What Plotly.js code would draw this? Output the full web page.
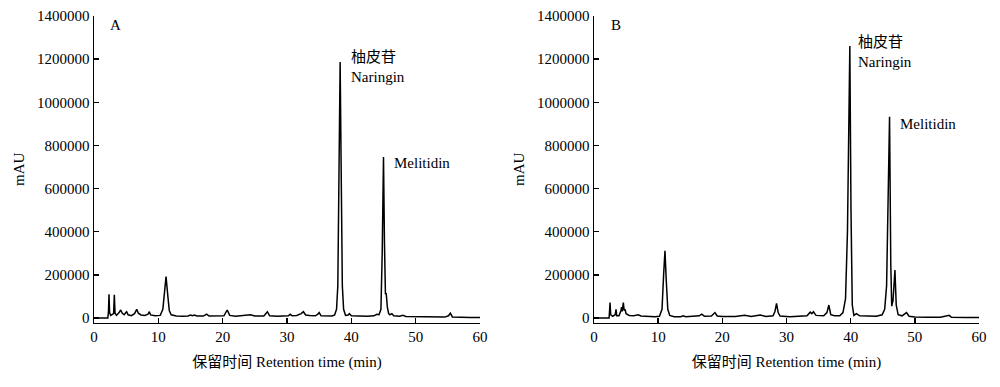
<!DOCTYPE html>
<html>
<head>
<meta charset="utf-8">
<script src="https://cdn.plot.ly/plotly-3.0.1.min.js"></script>
<style>html,body{margin:0;padding:0;background:#fff;}#chart{width:1000px;height:387px;}</style>
</head>
<body>
<div id="chart"></div>
<script>
// Chromatogram A (retention time in min, signal in mAU)
const timeA = [0,2.15,2.25,2.33,2.42,2.6,3.05,3.16,3.27,3.5,3.9,4.15,4.4,4.7,4.95,5.08,5.3,5.8,6.3,6.64,6.9,7.3,7.9,8.4,8.6,8.8,9.5,10.3,10.7,10.95,11.2,11.45,11.7,12.0,12.8,13.8,14.6,15.0,15.3,15.6,16.0,17.0,17.5,17.9,19.0,20.2,20.7,21.1,22.0,23.2,24.3,25.0,26.4,26.95,27.3,28.5,29.6,30.2,30.5,30.8,31.5,32.2,32.55,32.9,33.5,34.4,34.8,35.0,35.3,36.2,37.0,37.4,37.7,37.9,38.05,38.26,38.45,38.6,38.8,39.1,39.5,39.7,40.0,41.0,42.5,43.5,43.95,44.3,44.6,44.8,45.0,45.15,45.3,45.42,45.6,45.8,46.0,46.3,46.6,47.5,48.0,48.5,50,51.5,53,54.5,55.1,55.4,55.7,57,58.5,60];
const signalA = [0,0,30000,110000,25000,12000,20000,107000,22000,12000,25000,37000,22000,15000,25000,29000,15000,11000,20000,40000,22000,14000,12000,18000,29000,14000,10000,12000,40000,120000,192000,110000,35000,15000,9000,8000,9000,14000,11000,14000,9000,9000,18000,9000,8000,10000,37000,12000,8000,10000,15000,9000,9000,29000,10000,8000,9000,10000,17000,10000,12000,20000,29000,14000,12000,10000,18000,25000,10000,8000,9000,14000,40000,150000,600000,1187000,600000,150000,40000,12000,14000,20000,10000,8000,8000,10000,17000,15000,40000,300000,746000,350000,110000,115000,50000,20000,15000,20000,10000,8000,12000,7000,6000,5000,5000,4000,10000,22000,5000,3000,2000,2000];

// Chromatogram B
const timeB = [0,2.35,2.42,2.5,2.6,2.9,3.3,3.43,3.55,3.9,4.2,4.3,4.4,4.57,4.7,4.85,5.0,5.5,6.2,6.9,7.3,8.5,9.5,10.2,10.6,10.85,11.06,11.25,11.5,11.8,12.5,13.5,13.9,14.3,15.5,16.0,16.4,16.8,17.2,18.3,18.85,19.2,20,22,23.5,24.5,25.9,26.8,27.9,28.2,28.45,28.7,29.0,30.5,32.0,33.2,33.7,33.95,34.2,34.6,35.8,36.3,36.6,36.9,37.5,38.3,38.8,39.2,39.5,39.7,39.87,40.05,40.25,40.5,40.9,41.4,42.5,44,44.9,45.3,45.6,45.85,46.06,46.25,46.4,46.6,46.9,47.1,47.4,48.0,48.7,49.1,50,52,54,55.35,55.7,58,60];
const signalB = [0,0,30000,72000,15000,8000,15000,40000,10000,10000,35000,50000,30000,71000,35000,40000,20000,12000,10000,15000,9000,7000,6000,8000,40000,200000,312000,180000,40000,12000,6000,6000,10000,6000,8000,12000,10000,18000,8000,9000,25000,9000,7000,7000,13000,7000,14000,7000,10000,30000,68000,25000,9000,6000,8000,10000,27000,20000,29000,12000,10000,25000,60000,15000,10000,10000,25000,90000,400000,900000,1261000,500000,60000,12000,20000,10000,8000,8000,15000,40000,150000,500000,933000,250000,55000,80000,222000,60000,15000,10000,25000,8000,5000,3000,3000,12000,3000,2000,2000];

const yTicks = [0,200000,400000,600000,800000,1000000,1200000,1400000];
const xTicks = [0,10,20,30,40,50,60];
const panelLabels = ['A','B'];
const peakNames = ['柚皮苷<br>Naringin','Melitidin'];
const xTitle = '保留时间 Retention time (min)';
const yTitle = 'mAU';

const FONT = 'Liberation Serif, Times New Roman, Noto Sans CJK SC, serif';

const traces = [
  {x: timeA, y: signalA, type: 'scatter', mode: 'lines', line: {color: '#000', width: 1.5}, xaxis: 'x', yaxis: 'y', hoverinfo: 'skip'},
  {x: timeB, y: signalB, type: 'scatter', mode: 'lines', line: {color: '#000', width: 1.5}, xaxis: 'x2', yaxis: 'y2', hoverinfo: 'skip'}
];

function xa(domain, anchor) {
  return {domain: domain, anchor: anchor, range: [0, 60], tickvals: xTicks, ticktext: xTicks.map(String),
    ticks: 'inside', ticklen: 5, tickwidth: 1.5, tickcolor: '#000', showline: true, linecolor: '#000', linewidth: 1.5,
    showgrid: false, zeroline: false, tickfont: {family: FONT, size: 15, color: '#000'},
    title: {text: xTitle, font: {family: FONT, size: 15, color: '#000'}, standoff: 12}};
}
function ya(anchor) {
  return {domain: [0.1662, 0.9587], anchor: anchor, range: [-21800, 1400000], tickvals: yTicks, ticktext: yTicks.map(String),
    ticks: 'inside', ticklen: 5, tickwidth: 1.5, tickcolor: '#000', showline: true, linecolor: '#000', linewidth: 1.5,
    showgrid: false, zeroline: false, tickfont: {family: FONT, size: 15, color: '#000'},
    title: {text: yTitle, font: {family: FONT, size: 15, color: '#000'}, standoff: 8}};
}

const annFont = {family: FONT, size: 15, color: '#000'};
const annotations = [
  {xref: 'x', yref: 'y', x: 3.3, y: 1358000, text: panelLabels[0], showarrow: false, xanchor: 'center', yanchor: 'middle', font: annFont},
  {xref: 'x2', yref: 'y2', x: 3.5, y: 1358000, text: panelLabels[1], showarrow: false, xanchor: 'center', yanchor: 'middle', font: annFont},
  {xref: 'x', yref: 'y', x: 39.6, y: 1164000, text: peakNames[0], showarrow: false, xanchor: 'left', yanchor: 'middle', align: 'left', font: annFont},
  {xref: 'x', yref: 'y', x: 46.3, y: 719000, text: peakNames[1], showarrow: false, xanchor: 'left', yanchor: 'middle', font: annFont},
  {xref: 'x2', yref: 'y2', x: 40.8, y: 1235000, text: peakNames[0], showarrow: false, xanchor: 'left', yanchor: 'middle', align: 'left', font: annFont},
  {xref: 'x2', yref: 'y2', x: 47.3, y: 899000, text: peakNames[1], showarrow: false, xanchor: 'left', yanchor: 'middle', font: annFont}
];

const layout = {
  width: 1000, height: 387,
  margin: {l: 0, r: 0, t: 0, b: 0},
  paper_bgcolor: '#fff', plot_bgcolor: '#fff',
  showlegend: false,
  font: {family: FONT, size: 15, color: '#000'},
  xaxis: xa([0.094, 0.480], 'y'),
  yaxis: ya('x'),
  xaxis2: xa([0.594, 0.979], 'y2'),
  yaxis2: ya('x2'),
  annotations: annotations
};

Plotly.newPlot('chart', traces, layout, {staticPlot: true, displayModeBar: false});
</script>
</body>
</html>
